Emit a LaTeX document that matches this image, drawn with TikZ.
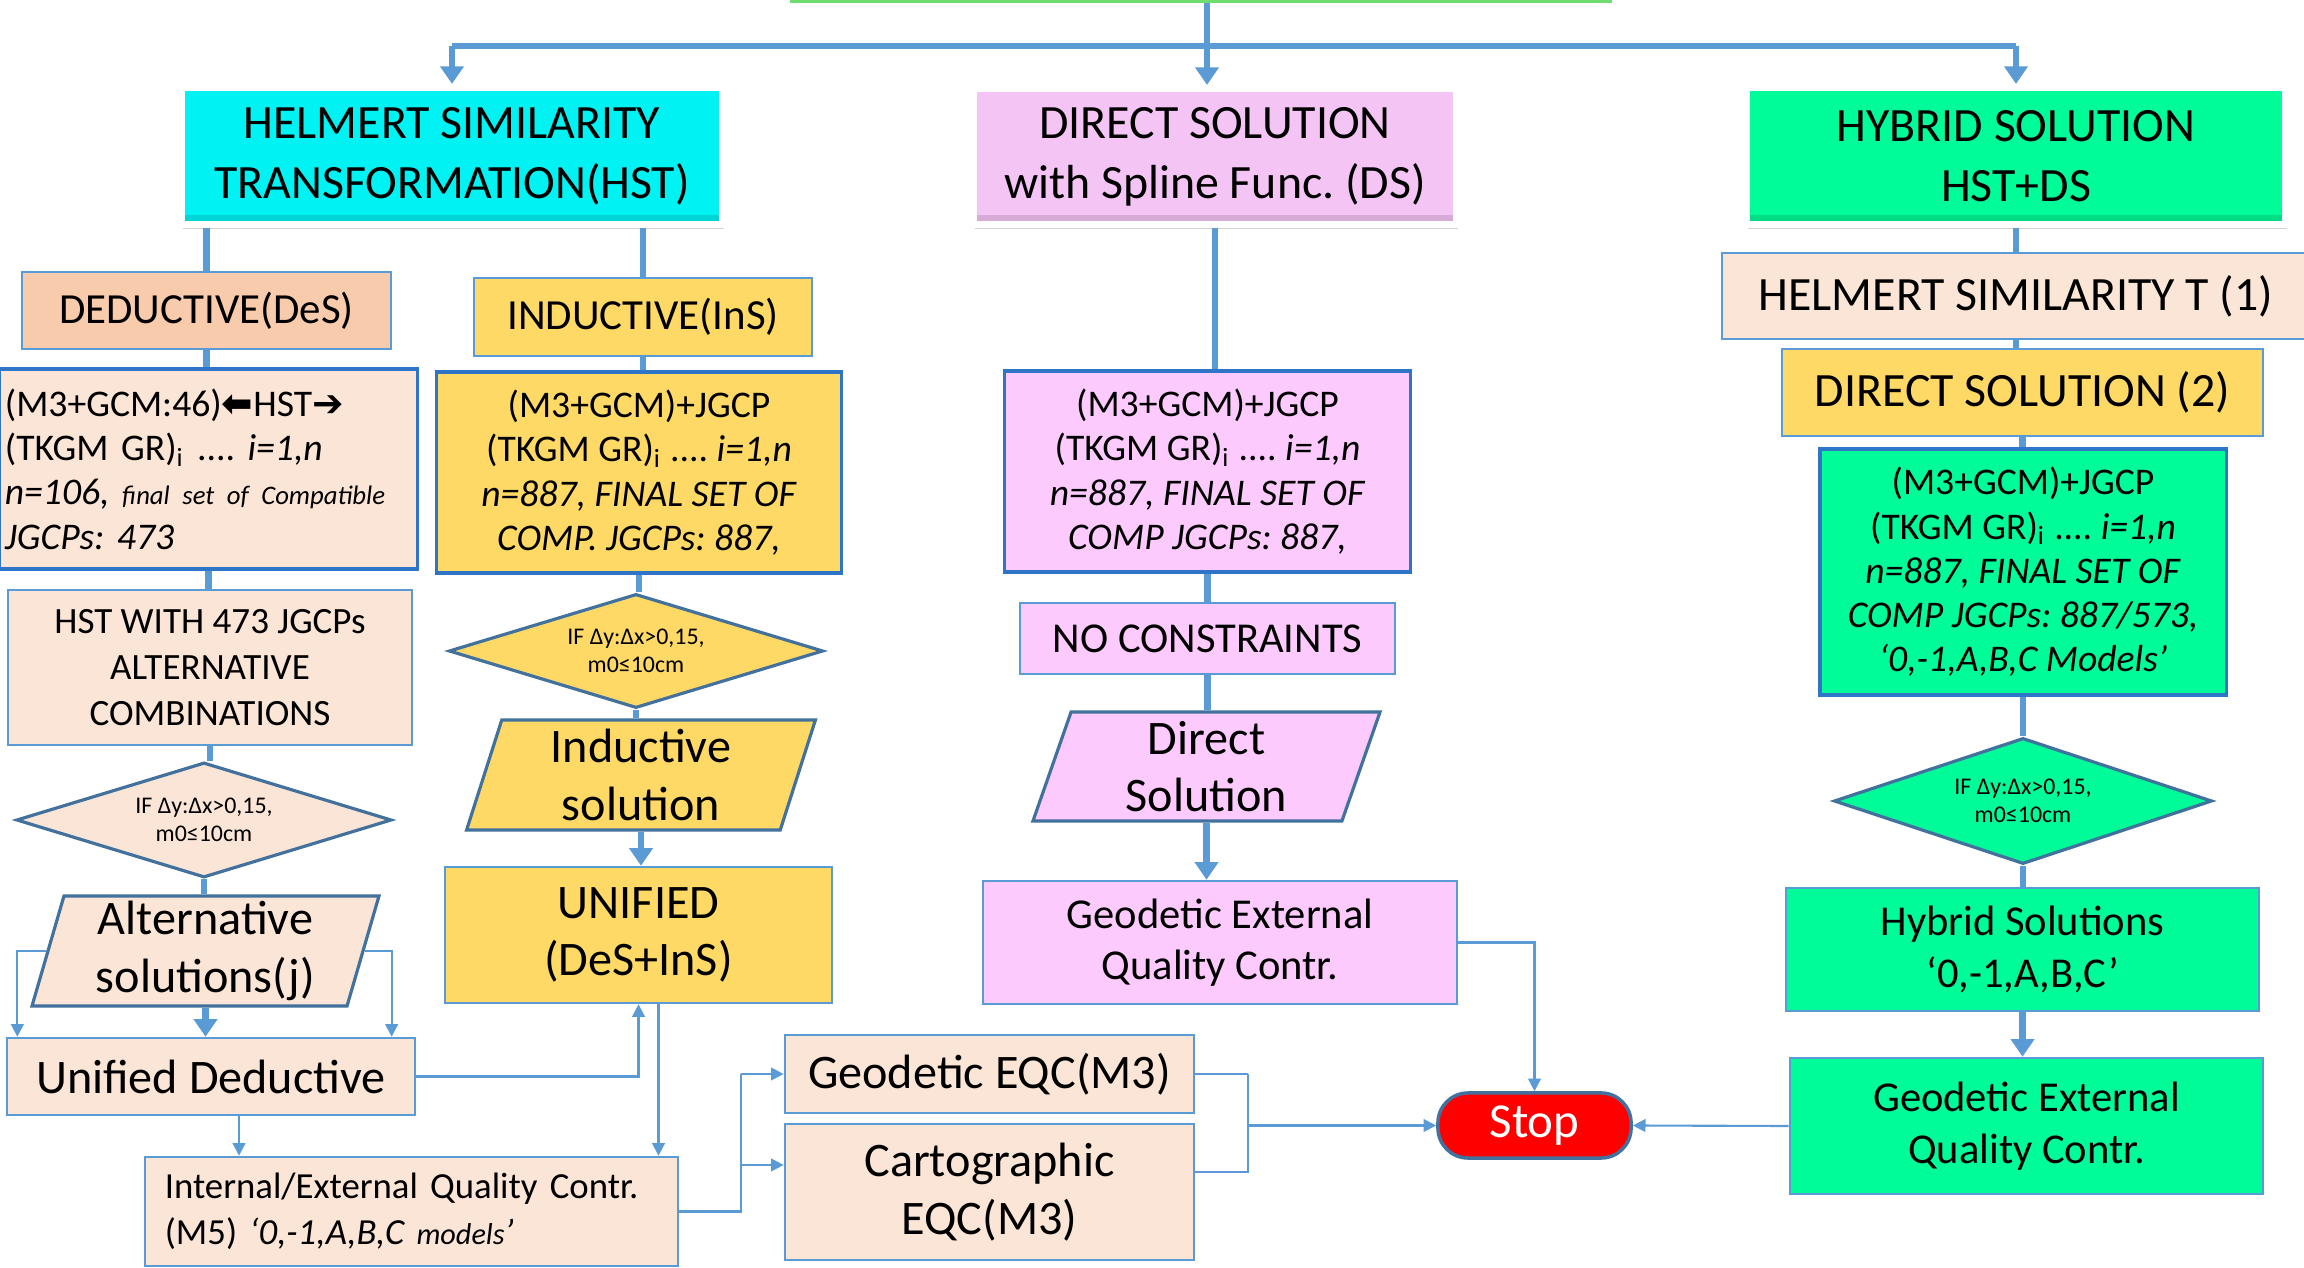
\documentclass[tikz,border=0pt]{standalone}
\usepackage{fontspec}
\setmainfont{Carlito}
\newfontfamily\arrowfont{DejaVu Sans}
\usetikzlibrary{shapes.geometric,arrows.meta,shadows}
\frenchspacing

\definecolor{cyanhdr}{RGB}{0,242,242}
\definecolor{pinkhdr}{RGB}{244,196,244}
\definecolor{pinkbox}{RGB}{252,202,252}
\definecolor{greenbox}{RGB}{0,252,152}
\definecolor{peachdk}{RGB}{247,203,172}
\definecolor{peachlt}{RGB}{251,229,214}
\definecolor{yellowbox}{RGB}{255,217,102}
\definecolor{lineblue}{RGB}{91,155,213}
\definecolor{boxblue}{RGB}{46,117,200}
\definecolor{diablue}{RGB}{65,113,156}
\definecolor{topgreen}{RGB}{110,220,110}

\newcommand\fsHdr{\fontsize{13.6}{17}\selectfont}
\newcommand\fsSub{\fontsize{12.2}{15}\selectfont}
\newcommand\fsBig{\fontsize{13.7}{16.4}\selectfont}
\newcommand\fsMid{\fontsize{12.1}{14.6}\selectfont}
\newcommand\fsTxt{\fontsize{10.7}{12.6}\selectfont}
\newcommand\fsDia{\fontsize{6.8}{8.1}\selectfont}
\newcommand\fsSmall{\fontsize{8.6}{10}\selectfont}
\newcommand\fsTiny{\fontsize{7.6}{10}\selectfont}
\newcommand\harrow[1]{{\arrowfont\bfseries #1}}

\tikzset{
  hdr/.style={rectangle, draw=white, line width=2pt, fill=#1, align=center, inner sep=0pt,
    drop shadow={shadow xshift=0.4pt, shadow yshift=-1.4pt, opacity=0.25, fill=black!70},
    path picture={\fill[black, opacity=0.12] ([yshift=0.1cm]path picture bounding box.south west)
      rectangle (path picture bounding box.south east);}},
  card/.style={rectangle, draw=lineblue, line width=0.7pt, fill=#1, align=center, inner sep=0pt},
  txtbox/.style={rectangle, draw=boxblue, line width=0.9pt, fill=#1, align=center, inner sep=0pt, font=\fsTxt},
  decide/.style={diamond, aspect=3.2, draw=diablue, line width=0.9pt, fill=#1, inner sep=0pt,
    align=center, font=\fsDia},
  datain/.style={trapezium, trapezium left angle=76, trapezium right angle=104, trapezium stretches=true,
    draw=diablue, line width=0.9pt, fill=#1, inner sep=0pt, align=center, font=\fsBig},
  trunk/.style={draw=lineblue, line width=1.9pt},
  trunkarrow/.style={trunk, -{Triangle[width=6.5pt,length=5pt]}},
  thin/.style={draw=lineblue, line width=0.6pt},
  thinarrow/.style={thin, -{Triangle[width=3.6pt,length=3.6pt]}},
}

\begin{document}
\begin{tikzpicture}[x=0.01cm, y=-0.01cm]
\useasboundingbox[fill=white] (0,0) rectangle (2304,1268);

% headers
\node[hdr=white, draw=topgreen, line width=1pt, preaction={draw=white, line width=4pt},
  minimum width=8.18cm, minimum height=0.82cm] (start) at (1201,-40) {};
\node[hdr=cyanhdr, minimum width=5.41cm, minimum height=1.37cm, font=\fsHdr] (hst) at (452,156)
  {HELMERT SIMILARITY\\TRANSFORMATION(HST)};
\node[hdr=pinkhdr, minimum width=4.83cm, minimum height=1.36cm, font=\fsHdr] (ds) at (1215,156.5)
  {DIRECT SOLUTION\\with Spline Func. (DS)};
\node[hdr=greenbox, minimum width=5.39cm, minimum height=1.37cm, font=\fsHdr] (hyb) at (2016,156)
  {HYBRID SOLUTION\\HST+DS};

% deductive branch
\node[card=peachdk, minimum width=3.69cm, minimum height=0.77cm, font=\fsSub] (des) at (206.5,310.5)
  {DEDUCTIVE(DeS)};
\node[txtbox=peachlt, minimum width=4.17cm, minimum height=2.00cm, text width=4.07cm, align=left]
  (desbox) at (208.5,469)
  {(M3+GCM:46)\harrow{⬅}HST\harrow{➔}\\
   (TKGM GR)\textsubscript{i} .... \textit{i=1,n}\\
   \mbox{\textit{n=106, {\fsTiny final set of Compatible}}}\\
   \textit{JGCPs: 473}};
\node[card=peachlt, minimum width=4.04cm, minimum height=1.55cm, font=\fontsize{10.55}{13}\selectfont]
  (hstalt) at (210,667.5) {HST WITH 473 JGCPs\\ALTERNATIVE\\COMBINATIONS};
\node[decide=peachlt, minimum width=3.75cm, minimum height=1.15cm] (desdia) at (204,820)
  {IF Δy:Δx>0,15,\\m0≤10cm};
\node[datain=peachlt, minimum width=3.49cm, minimum height=1.10cm] (alt) at (205.5,951)
  {Alternative\\solutions(j)};
\node[card=peachlt, minimum width=4.08cm, minimum height=0.77cm, font=\fsBig] (unided) at (211,1076.5)
  {Unified Deductive};

% inductive branch
\node[card=yellowbox, minimum width=3.38cm, minimum height=0.78cm, font=\fsSub] (ins) at (643,317)
  {INDUCTIVE(InS)};
\node[txtbox=yellowbox, minimum width=4.04cm, minimum height=2.01cm] (insbox) at (639,472.5)
  {(M3+GCM)+JGCP\\(TKGM GR)\textsubscript{i} .... \textit{i=1,n}\\
   \textit{n=887, FINAL SET OF}\\\textit{COMP. JGCPs: 887,}};
\node[decide=yellowbox, minimum width=3.74cm, minimum height=1.14cm] (insdia) at (636,651)
  {IF Δy:Δx>0,15,\\m0≤10cm};
\node[datain=yellowbox, minimum width=3.50cm, minimum height=1.10cm] (inssol) at (641,775)
  {Inductive\\solution};
\node[card=yellowbox, minimum width=3.87cm, minimum height=1.36cm, font=\fsBig] (unified) at (638.5,935)
  {UNIFIED\\(DeS+InS)};

% quality control
\node[card=peachlt, minimum width=5.33cm, minimum height=1.09cm, text width=4.93cm, align=left,
  font=\fontsize{10.45}{13}\selectfont] (iqc) at (411.5,1211.5)
  {Internal/External Quality Contr.\\(M5) \textit{‘0,-1,A,B,C {\fsSmall models}’}};
\node[card=peachlt, minimum width=4.09cm, minimum height=0.78cm, font=\fsBig] (geqc) at (989.5,1074)
  {Geodetic EQC(M3)};
\node[card=peachlt, minimum width=4.09cm, minimum height=1.36cm, font=\fsBig] (ceqc) at (989.5,1192)
  {Cartographic\\EQC(M3)};

% direct branch
\node[txtbox=pinkbox, minimum width=4.05cm, minimum height=2.01cm] (dsbox) at (1207.5,471.5)
  {(M3+GCM)+JGCP\\(TKGM GR)\textsubscript{i} .... \textit{i=1,n}\\
   \textit{n=887, FINAL SET OF}\\\textit{COMP JGCPs: 887,}};
\node[card=pinkbox, minimum width=3.75cm, minimum height=0.71cm, font=\fsMid] (nocon) at (1207.5,638.5)
  {NO CONSTRAINTS};
\node[datain=pinkbox, minimum width=3.49cm, minimum height=1.09cm] (dsol) at (1206.5,766.5)
  {Direct\\Solution};
\node[card=pinkbox, minimum width=4.74cm, minimum height=1.23cm, font=\fsMid] (dgeqc) at (1220,942.5)
  {Geodetic External\\Quality Contr.};
\node[rectangle, rounded corners=0.3cm, draw=diablue, line width=1pt, fill=red, text=white,
  minimum width=1.93cm, minimum height=0.65cm, inner sep=0pt, font=\fontsize{13.9}{16}\selectfont]
  (stop) at (1534.5,1125.5) {Stop};

% hybrid branch
\node[card=peachlt, minimum width=5.88cm, minimum height=0.86cm, font=\fsHdr] (hst1) at (2016,296)
  {HELMERT SIMILARITY T (1)};
\node[card=yellowbox, minimum width=4.81cm, minimum height=0.87cm, font=\fsHdr] (dir2) at (2022.5,392.5)
  {DIRECT SOLUTION (2)};
\node[txtbox=greenbox, minimum width=4.06cm, minimum height=2.46cm] (hybbox) at (2023,572)
  {(M3+GCM)+JGCP\\(TKGM GR)\textsubscript{i} .... \textit{i=1,n}\\
   \textit{n=887, FINAL SET OF}\\\textit{COMP JGCPs: 887/573,}\\\textit{‘0,-1,A,B,C Models’}};
\node[decide=greenbox, minimum width=3.78cm, minimum height=1.26cm] (hybdia) at (2023,801)
  {IF Δy:Δx>0,15,\\m0≤10cm};
\node[card=greenbox, minimum width=4.73cm, minimum height=1.23cm, font=\fsMid] (hybsol) at (2022.5,949.5)
  {Hybrid Solutions\\‘0,-1,A,B,C’};
\node[card=greenbox, minimum width=4.73cm, minimum height=1.36cm, font=\fsMid] (hgeqc) at (2026.5,1126)
  {Geodetic External\\Quality Contr.};

% top split
\coordinate (split) at (1207,46);
\draw[trunk] (split |- start.south) -- (split);
\draw[trunk] (split -| hst.north) -- (split -| hyb.north);
\draw[trunkarrow] (split -| hst.north) -- (hst.north);
\draw[trunkarrow] (split) -- (split |- ds.north);
\draw[trunkarrow] (split -| hyb.north) -- (hyb.north);

% column links
\draw[trunk] (hst.south -| des.north) -- (des.north);
\draw[trunk] (hst.south -| ins.north) -- (ins.north);
\foreach \a/\b in {des/desbox, desbox/hstalt, hstalt/desdia, desdia/alt,
                   ins/insbox, insbox/insdia, insdia/inssol,
                   ds/dsbox, dsbox/nocon, nocon/dsol,
                   hyb/hst1, hst1/dir2, dir2/hybbox, hybbox/hybdia, hybdia/hybsol}
  \draw[trunk] (\a.south) -- (\a.south |- \b.north);
\foreach \a/\b in {alt/unided, inssol/unified, dsol/dgeqc, hybsol/hgeqc}
  \draw[trunkarrow] (\a.south) -- (\a.south |- \b.north);

% side links
\draw[thinarrow] (alt.west) -- ++(-29,0) coordinate (altL) -- (altL |- unided.north);
\draw[thinarrow] (alt.east) -- ++(27,0) coordinate (altR) -- (altR |- unided.north);
\draw[thinarrow] (unided.east) -| (unified.south);
\draw[thinarrow] ([xshift=0.2cm]unified.south) -- ([xshift=0.2cm]unified.south |- iqc.north);
\draw[thinarrow] ([xshift=0.28cm]unided.south) -- ([xshift=0.28cm]unided.south |- iqc.north);
\draw[thin] (iqc.east) -- ++(62,0) coordinate (fork) -- (fork |- geqc.west);
\draw[thinarrow] (fork |- geqc.west) -- (geqc.west);
\draw[thinarrow] (fork) |- ([yshift=0.27cm]ceqc.west);
\draw[thin] (geqc.east) -- ++(53,0) coordinate (mrg);
\draw[thin] ([yshift=0.2cm]ceqc.east) -| (mrg);
\draw[thinarrow] (mrg |- stop.west) -- (stop.west);
\draw[thinarrow] (dgeqc.east) -| (stop.north);
\draw[thinarrow] (hgeqc.west) -- (stop.east);
\end{tikzpicture}
\end{document}
